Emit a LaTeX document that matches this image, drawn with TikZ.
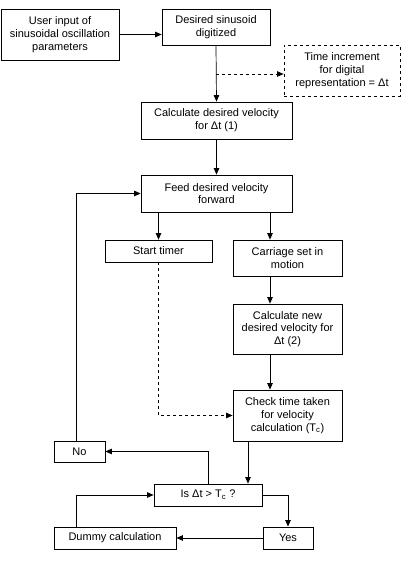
\documentclass[tikz,border=0pt]{standalone}
\usepackage{fontspec}
\setmainfont{Liberation Sans}
\usetikzlibrary{arrows.meta}
\tikzset{
  box/.style={draw,line width=0.8pt,align=center,inner sep=0pt,font=\fontsize{11}{12.8}\selectfont},
  dbox/.style={box,dashed},
  arr/.style={line width=0.7pt,-{Triangle[length=6.5pt,width=5.5pt]}}
}
\begin{document}
\begin{tikzpicture}[x=1pt,y=-1pt]
    \useasboundingbox (0,0) rectangle (410,562);
    % Columnas
    \coordinate (colA) at (270,0);
    \coordinate (colB) at (248,0);
    \coordinate (colC) at (76,0);
    \coordinate (tap) at (216,74);

    % Cajas
    \node[box,minimum width=118,minimum height=51] (user) at (60,34.5) {User input of\\sinusoidal oscillation\\parameters};
    \node[box,minimum width=108,minimum height=36] (digit) at (216,27) {Desired sinusoid\\digitized};
    \node[dbox,minimum width=116,minimum height=51] (time) at (342,70.5) {Time increment\\for digital\\representation = Δt};
    \node[box,minimum width=151,minimum height=37] (calc) at (216.5,120.5) {Calculate desired velocity\\for Δt (1)};
    \node[box,minimum width=151,minimum height=37] (feed) at (216.5,193.5) {Feed desired velocity\\forward};
    \node[box,minimum width=107,minimum height=22] (timer) at (158.5,251) {Start timer};
    \node[box,minimum width=109,minimum height=36] (carr) at (287.5,258) {Carriage set in\\motion};
    \node[box,minimum width=109,minimum height=50] (calcnew) at (287.5,329) {Calculate new\\desired velocity for\\Δt (2)};
    \node[box,minimum width=109,minimum height=51] (check) at (287.5,415.5) {Check time taken\\for velocity\\calculation (T\textsubscript{c})};
    \node[box,minimum width=51,minimum height=21] (no) at (79.5,451.5) {No};
    \node[box,minimum width=108,minimum height=22] (is) at (208,495) {Is Δt > T\textsubscript{c} ?};
    \node[box,minimum width=50,minimum height=22] (yes) at (288,538) {Yes};
    \node[box,minimum width=122,minimum height=22] (dummy) at (115,538) {Dummy calculation};

    % Flechas
    \draw[arr] (user.east) -- (user.east -| digit.west);
    \draw[arr] (digit.south) -- (calc.north);
    \draw[arr,dashed] (tap) -- (tap -| time.west);
    \draw[arr] (calc.south) -- (feed.north);
    \draw[arr] (feed.south -| timer) -- (timer.north);
    \draw[arr] (feed.south -| colA) -- (carr.north -| colA);
    \draw[arr] (carr.south -| colA) -- (calcnew.north -| colA);
    \draw[arr] (calcnew.south -| colA) -- (check.north -| colA);
    \draw[arr,dashed] (timer.south) |- (check.west);
    \draw[arr] (check.south -| colB) -- (is.north -| colB);
    \draw[arr] (is.north) |- (no.east);
    \draw[arr] (no.north -| colC) |- (feed.west);
    \draw[arr] (is.east) -| (yes.north);
    \draw[arr] (yes.west) -- (dummy.east);
    \draw[arr] (dummy.north -| colC) |- (is.west);
\end{tikzpicture}
\end{document}
